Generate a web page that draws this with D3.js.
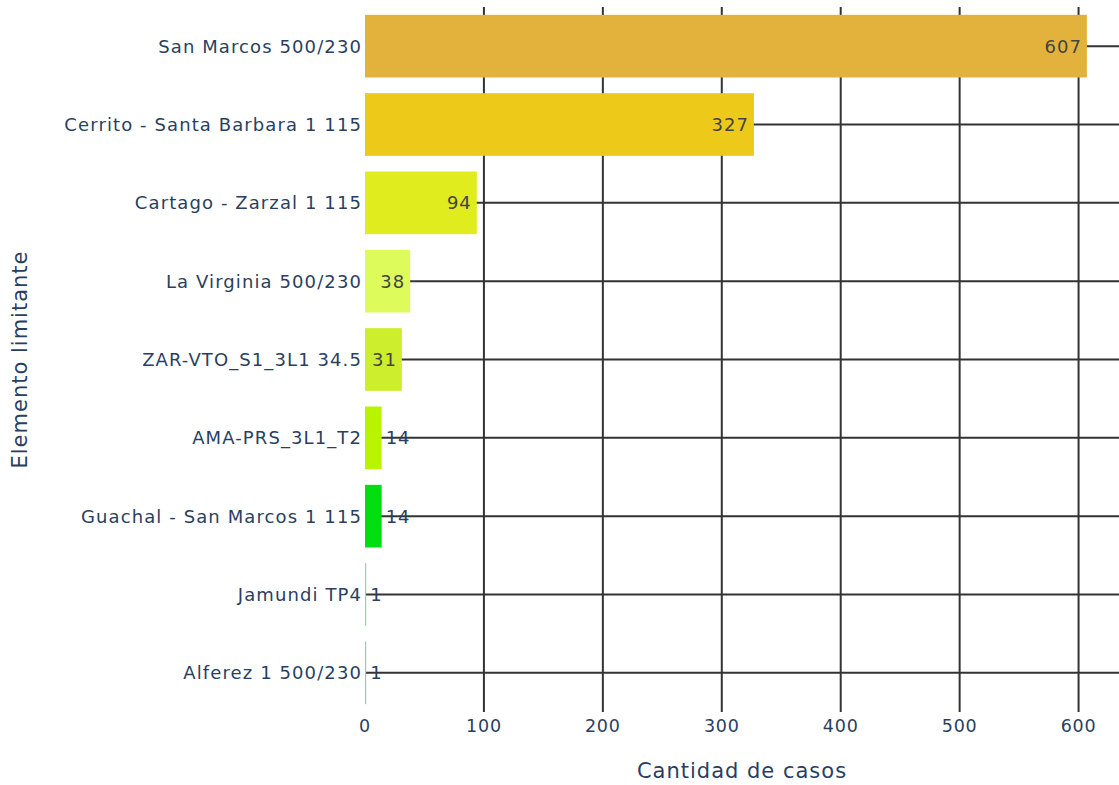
<!DOCTYPE html>
<html><head><meta charset="utf-8">
<script src="https://cdn.jsdelivr.net/npm/d3@7"></script>
<style>body{margin:0;background:#fff}svg{display:block}</style>
</head><body>
<svg id="c" width="1119" height="785"></svg>
<script>
const categories = ["San Marcos 500/230","Cerrito - Santa Barbara 1 115","Cartago - Zarzal 1 115","La Virginia 500/230","ZAR-VTO_S1_3L1 34.5","AMA-PRS_3L1_T2","Guachal - San Marcos 1 115","Jamundi TP4","Alferez 1 500/230"];
const values = [607,327,94,38,31,14,14,1,1];
const colors = ["#E3B23C","#EDC91A","#E0EC1E","#DDFC5C","#CCEE2C","#B8F400","#00DD11","#90D890","#A8C0B8"];
const xTicks = [0,100,200,300,400,500,600];
const xMax = 634;

(function(){
const svg = d3.select("#c");
const font = "DejaVu Sans, Verdana, sans-serif";
const pL = 365, pR = 1119, pT = 7, pB = 712;
const x = d3.scaleLinear().domain([0,xMax]).range([pL,pR]);
const y = d3.scaleBand().domain(categories).range([pT,pB]).paddingInner(0.2).paddingOuter(0.1);
const data = categories.map((c,i)=>({c,v:values[i],col:colors[i]}));

svg.append("g").selectAll("line").data(xTicks.filter(t=>t>0)).join("line")
  .attr("x1",d=>x(d)).attr("x2",d=>x(d)).attr("y1",pT).attr("y2",pB)
  .attr("stroke","#333").attr("stroke-width",2);
svg.append("g").selectAll("line").data(categories).join("line")
  .attr("x1",pL).attr("x2",pR).attr("y1",d=>y(d)+y.bandwidth()/2).attr("y2",d=>y(d)+y.bandwidth()/2)
  .attr("stroke","#333").attr("stroke-width",2);

svg.append("g").selectAll("rect").data(data).join("rect")
  .attr("x",x(0)).attr("y",d=>y(d.c)).attr("width",d=>Math.max(1,x(d.v)-x(0))).attr("height",y.bandwidth())
  .attr("fill",d=>d.col);

svg.append("g").selectAll("text").data(data).join("text")
  .attr("x",d=> d.v>=30 ? x(d.v)-5 : x(d.v)+4)
  .attr("y",d=>y(d.c)+y.bandwidth()/2)
  .attr("dy","0.36em")
  .attr("text-anchor",d=> d.v>=30 ? "end":"start")
  .attr("font-family",font).attr("font-size",18).attr("letter-spacing",1)
  .attr("fill",d=> d.v>=30 ? "#444":"#2a3f5f")
  .text(d=>d.v);

svg.append("g").selectAll("text").data(categories).join("text")
  .attr("x",pL-3).attr("y",d=>y(d)+y.bandwidth()/2).attr("dy","0.36em")
  .attr("text-anchor","end").attr("font-family",font).attr("font-size",18).attr("letter-spacing",1.1).attr("fill","#2a3f5f")
  .text(d=>d);

svg.append("g").selectAll("text").data(xTicks).join("text")
  .attr("x",d=>x(d)).attr("y",732).attr("text-anchor","middle")
  .attr("font-family",font).attr("font-size",17.5).attr("letter-spacing",0.8).attr("fill","#2a3f5f").text(d=>d);

svg.append("text").attr("x",(pL+pR)/2).attr("y",778).attr("text-anchor","middle")
  .attr("font-family",font).attr("font-size",21).attr("letter-spacing",1).attr("fill","#2a3f5f").text("Cantidad de casos");
svg.append("text").attr("transform",`translate(27,${(pT+pB)/2}) rotate(-90)`).attr("text-anchor","middle")
  .attr("font-family",font).attr("font-size",21).attr("letter-spacing",1).attr("fill","#2a3f5f").text("Elemento limitante");
})();
</script>
</body></html>
